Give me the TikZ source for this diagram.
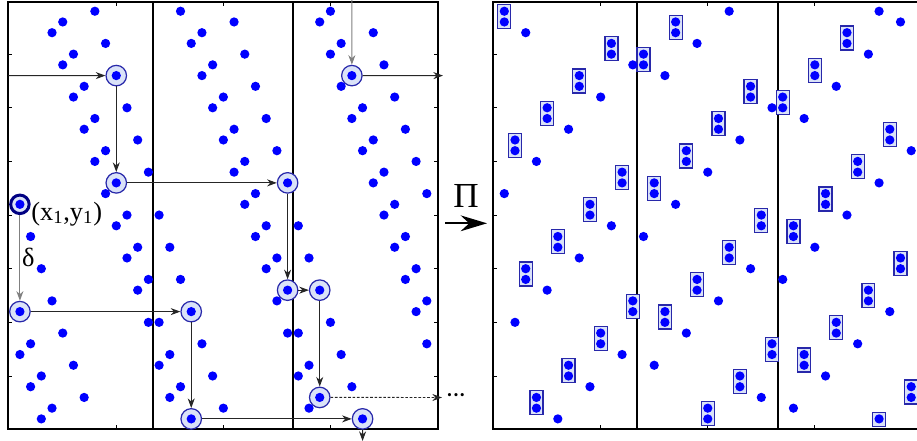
\documentclass[tikz,border=0pt]{standalone}
\usepackage{fontspec}
\setmainfont{Liberation Serif}
\usetikzlibrary{arrows.meta}
\definecolor{ptblue}{RGB}{0,0,255}
\definecolor{ringfill}{RGB}{218,226,248}
\definecolor{ringdraw}{RGB}{40,40,170}
\definecolor{startdraw}{RGB}{0,0,130}
\tikzset{
	dot/.style={circle, fill=ptblue, inner sep=0pt, minimum size=0.185cm},
	ring/.style={circle, draw=ringdraw, fill=ringfill, inner sep=0pt, minimum size=0.41cm, line width=0.7pt},
	startring/.style={circle, draw=startdraw, fill=ringfill, inner sep=0pt, minimum size=0.37cm, line width=1.7pt},
	pairbox/.style={rectangle, draw=ringdraw, fill=ringfill, inner sep=0pt, minimum width=0.26cm, minimum height=0.48cm, line width=0.7pt},
	onebox/.style={pairbox, minimum height=0.28cm},
	walk/.style={-{Stealth[length=5.5pt,width=4pt]}, draw=black!85, line width=0.55pt},
	frame/.style={draw=black, line width=1pt}
}
\begin{document}
\begin{tikzpicture}[x=0.02cm, y=-0.02cm]
	\useasboundingbox (0,0) rectangle (917,440);
	\clip (0,0) rectangle (917,440);
	% frames and strips
	\draw[frame] (8.3,2) rectangle (437.7,429.3);
	\draw[frame] (492.7,2) rectangle (921,429.3);
	\draw[frame] (153.3,2) -- (153.3,429.3) (293.3,2) -- (293.3,429.3);
	\draw[frame] (637.3,2) -- (637.3,429.3) (777.7,2) -- (777.7,429.3);
	% ticks
	\foreach \k in {1,...,7} {
		\draw[line width=0.6pt] (8.3,{0.5+53.65*\k}) -- ++(4,0);
		\draw[line width=0.6pt] (437.7,{0.5+53.65*\k}) -- ++(-4,0);
		\draw[line width=0.6pt] (492.7,{0.5+53.65*\k}) -- ++(4,0);
	}
	\foreach \k in {1,2,3} {
		\draw[line width=0.6pt] ({9.2+107.1*\k},2) -- ++(0,4);
		\draw[line width=0.6pt] ({9.2+107.1*\k},429.3) -- ++(0,-4);
		\draw[line width=0.6pt] ({493.6+107.1*\k},2) -- ++(0,4);
		\draw[line width=0.6pt] ({493.6+107.1*\k},429.3) -- ++(0,-4);
	}
	% left lattice
	\begin{scope}[shift={(9.2,0.5)}, x=0.2142cm, y=-0.2146cm]
		\node (P1) at (10, 7)	[ring]	{};
		\node (P2) at (10,17)	[ring]	{};
		\node (P3) at (26,17)	[ring]	{};
		\node (P4) at (26,27)	[ring]	{};
		\node (P5) at (29,27)	[ring]	{};
		\node (P6) at (29,37)	[ring]	{};
		\node (X1) at ( 1,19)	[startring]	{};
		\node (Q1) at ( 1,29)	[ring]	{};
		\node (Q2) at (17,29)	[ring]	{};
		\node (Q3) at (17,39)	[ring]	{};
		\node (Q4) at (33,39)	[ring]	{};
		\node (R1) at (32, 7)	[ring]	{};
		\foreach \i/\j in {8/1,5/2,4/3,9/4,6/5,5/6,10/7,7/8,6/9,11/10,8/11,7/12,12/13,9/14,8/15,13/16,10/17,9/18,1/19,11/20,14/20,10/21,2/22,12/23,11/24,3/25,13/26,12/27,4/28,1/29,13/30,14/30,5/31,2/32,1/33,6/34,3/35,2/36,7/37,4/38,3/39,
			16/1,21/2,18/3,17/4,22/5,19/6,18/7,23/8,20/9,19/10,24/11,21/12,20/13,25/14,22/15,21/16,26/17,23/18,22/19,24/21,23/22,15/23,25/24,24/25,16/26,26/27,25/28,17/29,26/31,18/32,15/33,14/34,19/35,16/36,15/37,20/38,17/39,
			30/1,29/2,34/3,31/4,30/5,35/6,32/7,31/8,36/9,33/10,32/11,37/12,34/13,33/14,38/15,35/16,34/17,39/18,36/19,35/20,27/21,37/22,36/23,28/24,38/25,37/26,29/27,39/28,38/29,30/30,27/31,39/32,31/33,28/34,27/35,32/36,29/37,28/38,33/39}
			\node (L-\i-\j) at (\i,\j) [dot] {};
	\end{scope}
	% right lattice
	\begin{scope}[shift={(493.6,0.5)}, x=0.2142cm, y=-0.2146cm]
		\foreach \i/\j in {1/1,17/2,11/4,14/5,8/7,5/10,2/13,18/14,12/16,15/17,9/19,6/22,3/25,19/26,13/28,16/29,10/31,7/34,4/37,
			33/3,30/6,24/8,27/9,21/11,37/12,34/15,31/18,25/20,28/21,22/23,38/24,35/27,32/30,26/32,29/33,23/35,39/36,20/38} {
			\node (B-\i-\j) at (\i,\j+0.5) [pairbox] {};
			\node (T-\i-\j) at (\i,\j) [dot] {};
			\node (U-\i-\j) at (\i,\j+1) [dot] {};
		}
		\node (B-36-39) at (36,39.05) [onebox] {};
		\node (T-36-39) at (36,39) [dot] {};
		\foreach \i/\j in {3/3,13/6,19/4,16/7,10/9,7/12,4/15,1/18,17/19,11/21,14/22,8/24,5/27,2/30,18/31,12/33,15/34,9/36,6/39,
			22/1,26/10,23/13,20/16,29/11,32/8,35/5,36/1,38/2,39/14,36/17,33/20,30/23,24/25,21/28,27/26,37/29,34/32,31/35,25/37,28/38}
			\node (R-\i-\j) at (\i,\j) [dot] {};
	\end{scope}
	% walks
	\coordinate (inL) at (8.3,75.6);
	\coordinate (inT) at (351.9,-2);
	\coordinate (outR) at (443,75.6);
	\coordinate (outD) at (442,397.5);
	\coordinate (outB) at (362.6,441);
	\draw[walk] (inL) -- (P1);
	\draw[walk] (P1) -- (P2);
	\draw[walk] (P2) -- (P3);
	\draw[walk] (P3) -- (P4);
	\draw[walk] (P4) -- (P5);
	\draw[walk] (P5) -- (P6);
	\draw[walk, dash pattern=on 1.5pt off 1pt] (P6) -- (outD);
	\draw[walk, draw=black!50] (inT) -- (R1);
	\draw[walk] (R1) -- (outR);
	\draw[walk, draw=black!50] (X1) -- node (dl) [right, inner sep=1pt, font=\fontsize{15}{18}\selectfont] {δ} (Q1);
	\draw[walk] (Q1) -- (Q2);
	\draw[walk] (Q2) -- (Q3);
	\draw[walk] (Q3) -- (Q4);
	\draw[walk] (Q4) -- (outB);
	\node (more) at (446,397.5) [anchor=west, inner sep=0pt, font=\fontsize{11}{11}\selectfont] {\textbf{···}};
	\node (lab) at (31,220) [anchor=base west, inner sep=0pt, font=\fontsize{15}{18}\selectfont] {(x\textsubscript{1},y\textsubscript{1})};
	% the map
	\node (Pi) at (466,207) [anchor=base, inner sep=0pt, font=\fontsize{20}{20}\selectfont] {Π};
	\coordinate (mapL) at (445,223.3);
	\coordinate (mapR) at (487,223.3);
	\draw[-{Stealth[length=15pt,width=9pt]}, line width=1.1pt] (mapL) -- (mapR);
\end{tikzpicture}
\end{document}
